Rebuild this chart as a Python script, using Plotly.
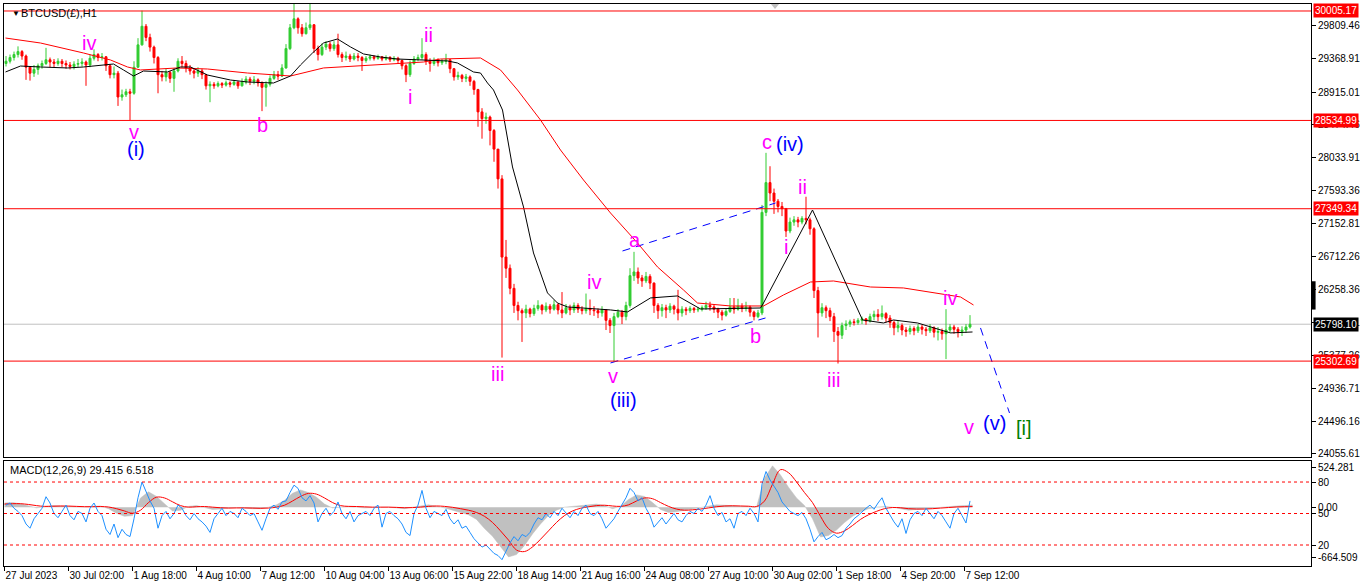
import plotly.graph_objects as go

# BTCUSD H1 chart, prices grouped in 4 hour candles (x = H1 bar index)
first_open = 29300
closes = [
    29330, 29380, 29420, 29460, 29400, 29250, 29170, 29220, 29270, 29300,
    29350, 29320, 29300, 29330, 29300, 29280, 29260, 29290, 29300, 29320,
    29280, 29370, 29420, 29380, 29390, 29270, 29150, 29170, 28850, 28880,
    28920, 28900, 29250, 29550, 29800, 29650, 29520, 29380, 29150, 29120,
    29180, 29100, 29200, 29330, 29300, 29240, 29200, 29170, 29200, 29150,
    29000, 29020, 29000, 29030, 29010, 29040, 29020, 29050, 29000, 29050,
    29090, 29060, 29080, 29040, 28980, 29020, 29100, 29150, 29130, 29240,
    29500, 29780, 29900, 29780, 29700, 29780, 29820, 29500, 29420, 29520,
    29560, 29500, 29550, 29420, 29380, 29400, 29360, 29400, 29380, 29340,
    29370, 29390, 29370, 29390, 29360, 29380, 29350, 29370, 29340, 29270,
    29150, 29300, 29360, 29380, 29420, 29330, 29300, 29340, 29310, 29330,
    29350, 29230, 29120, 29140, 29100, 29120, 29060, 28950, 28650, 28560,
    28580, 28400, 28150, 27750, 26700, 26550, 26280, 26050, 25980, 25950,
    26000, 25940, 26010, 26050, 25990, 26040, 26000, 26060, 25990, 25950,
    26020, 25990, 26050, 26000, 25980, 26010, 25990, 25980, 25950, 25990,
    25850, 25780, 25900, 25960, 25900, 26050, 26450, 26500, 26420, 26380,
    26440, 26350, 26050, 25980, 26020, 25990, 26040, 26000, 25950, 26000,
    25980, 26010, 25990, 26000, 26020, 26050, 26030, 26000, 25960, 25920,
    25970, 26030, 26000, 26040, 26010, 26030, 25960, 25900, 25950, 27300,
    27700, 27560, 27450, 27380, 27350, 27050, 27170, 27200, 27170, 27220,
    27200, 27080, 26250, 25950, 26020, 25980, 25900, 25700, 25650, 25780,
    25800, 25830, 25820, 25850, 25870, 25840, 25900, 25930, 25900, 25940,
    25880, 25820, 25750, 25780, 25720, 25700, 25740, 25710, 25760, 25730,
    25710, 25750, 25690, 25700, 25670, 25720, 25760, 25730, 25700, 25720,
    25760, 25798,
]
highs = [
    29400, 29420, 29460, 29530, 29480, 29420, 29260, 29280, 29300, 29340,
    29510, 29380, 29360, 29370, 29360, 29340, 29320, 29330, 29360, 29370,
    29340, 29420, 29490, 29440, 29440, 29400, 29290, 29260, 29200, 28950,
    28960, 28960, 29330, 29640, 30010, 29830, 29700, 29540, 29400, 29200,
    29230, 29200, 29240, 29370, 29400, 29340, 29280, 29230, 29250, 29230,
    29160, 29060, 29050, 29060, 29050, 29070, 29060, 29080, 29060, 29100,
    29130, 29120, 29130, 29100, 29060, 29060, 29140, 29200, 29200, 29290,
    29560, 29830, 30110, 29920, 29830, 29850, 30110, 29830, 29540, 29570,
    29600, 29590, 29600, 29700, 29450, 29460, 29430, 29440, 29440, 29400,
    29400, 29420, 29410, 29420, 29400, 29410, 29400, 29400, 29390, 29350,
    29290, 29340, 29400, 29420, 29640, 29450, 29370, 29380, 29370, 29360,
    29430, 29360, 29240, 29190, 29160, 29160, 29140, 29080, 28960, 28700,
    28640, 28600, 28420, 28150, 27800, 26930, 26600, 26340, 26100, 26010,
    26060, 26020, 26060, 26120, 26070, 26090, 26070, 26120, 26080, 26230,
    26070, 26060, 26090, 26080, 26040, 26210, 26130, 26040, 26010, 26040,
    26000, 25880, 25950, 26000, 25990, 26100, 26550, 26770, 26560, 26460,
    26500, 26470, 26360, 26080, 26070, 26060, 26080, 26060, 26260, 26040,
    26030, 26040, 26030, 26030, 26050, 26100, 26100, 26060, 26020, 25990,
    26010, 26150, 26150, 26140, 26080, 26100, 26050, 25980, 25990, 27400,
    28100, 27920, 27620, 27480, 27440, 27360, 27230, 27250, 27240, 27250,
    27510, 27230, 27100, 26300, 26080, 26050, 26020, 25950, 25760, 25820,
    25850, 25860, 25870, 25880, 25900, 25880, 25940, 25980, 26000, 26050,
    25960, 25920, 25850, 25840, 25810, 25760, 25780, 25770, 25800, 25790,
    25760, 25800, 25770, 25760, 25740, 26000, 25800, 25790, 25760, 25770,
    25800, 25920,
]
lows = [
    29260, 29300, 29340, 29380, 29350, 29080, 29070, 29120, 29150, 29230,
    29280, 29250, 29250, 29270, 29250, 29230, 29220, 29220, 29250, 29260,
    29000, 29250, 29340, 29330, 29340, 29200, 29100, 29100, 28730, 28800,
    28850, 28540, 28880, 29240, 29540, 29600, 29460, 29300, 28900, 29060,
    29060, 29040, 28920, 29180, 29250, 29180, 29150, 29100, 29120, 29090,
    28950, 28780, 28960, 28980, 28970, 28990, 28980, 29000, 28960, 28990,
    29020, 29010, 29020, 28990, 28660, 28720, 28990, 29080, 29080, 29120,
    29230, 29480, 29760, 29700, 29660, 29690, 29750, 29440, 29340, 29400,
    29480, 29460, 29470, 29380, 29320, 29340, 29320, 29340, 29330, 29200,
    29310, 29340, 29340, 29350, 29330, 29340, 29320, 29330, 29300, 29220,
    29050, 29120, 29280, 29330, 29350, 29280, 29190, 29270, 29260, 29280,
    29290, 29170, 29070, 29080, 29050, 29050, 29000, 28880, 28450, 28290,
    28490, 28200, 27980, 27620, 25350, 26420, 26200, 25950, 25850, 25560,
    25880, 25890, 25910, 25980, 25930, 25960, 25940, 25980, 25930, 25880,
    25930, 25920, 25950, 25950, 25930, 25940, 25920, 25910, 25880, 25900,
    25720, 25680, 25290, 25880, 25800, 25850, 26020, 26380, 26340, 26300,
    26350, 26270, 25950, 25870, 25900, 25880, 25950, 25930, 25850, 25900,
    25920, 25950, 25950, 25960, 25970, 25990, 25980, 25950, 25880, 25850,
    25900, 25950, 25940, 25980, 25960, 25970, 25900, 25850, 25880, 25920,
    27250, 27450, 27280, 27300, 27250, 26970, 27020, 27120, 27100, 27140,
    27140, 27000, 26150, 25620, 25900, 25880, 25840, 25560, 25270, 25600,
    25720, 25760, 25780, 25790, 25800, 25790, 25820, 25850, 25840, 25860,
    25820, 25750, 25650, 25690, 25650, 25630, 25660, 25650, 25680, 25660,
    25640, 25680, 25620, 25580, 25590, 25330, 25680, 25670, 25620, 25640,
    25680, 25740,
]
opens = [first_open] + closes[:-1]
bar_x = [4 * i + 1.5 for i in range(len(closes))]

# moving averages (bar index, price)
black_ma_x = [1, 16, 36, 63, 79, 96, 109, 119, 129, 139, 163, 176, 186, 203, 226, 243,
              269, 286, 296, 308, 319, 333, 346, 359, 376, 393, 413, 443, 453, 469, 476,
              483, 489, 498, 508, 519, 529, 543, 553, 563, 606, 623, 646, 673, 696, 756,
              759, 808, 858, 879, 889, 913, 946, 968]
black_ma_y = [29186, 29266, 29253, 29240, 29253, 29280, 29293, 29213, 29132, 29199, 29186,
              29253, 29253, 29145, 29078, 29051, 29038, 29132, 29280, 29441, 29575, 29629,
              29522, 29428, 29387, 29360, 29347, 29334, 29307, 29186, 29172, 29038, 28944,
              28675, 27910, 27373, 26755, 26218, 26083, 26030, 25990, 25963, 26151, 26178,
              26003, 26016, 26083, 27332, 25855, 25815, 25855, 25815, 25681, 25694]
red_ma_x = [1, 36, 79, 106, 123, 136, 173, 203, 243, 286, 319, 336, 369, 419, 436, 469,
            476, 496, 513, 536, 556, 579, 606, 633, 653, 679, 693, 726, 759, 779, 806,
            829, 866, 899, 933, 956, 969]
red_ma_y = [29642, 29575, 29441, 29347, 29253, 29213, 29240, 29226, 29172, 29132, 29240,
            29253, 29280, 29320, 29360, 29374, 29374, 29213, 28944, 28541, 28138, 27735,
            27292, 26889, 26567, 26258, 26083, 26043, 26043, 26191, 26365, 26379, 26298,
            26285, 26218, 26164, 26056]

# MACD panel: histogram and signal every 8 bars, blue oscillator every 4 bars
macd_hist = [55, 60, 45, 15, -10, 5, 20, 15, 10, 5, 0, 10, 15, -20, -80, -120, -110, 120,
             200, 140, 40, -50, -40, 10, 20, 0, -30, -25, -10, -5, -15, -20, -20, 0, 30,
             90, 180, 225, 190, 130, 40, -10, 0, 10, 0, -10, -5, 0, 0, -10, -20, 0, 20, 30,
             10, -10, -40, -70, -100, -160, -280, -380, -520, -650, -620, -500, -350, -220,
             -110, -40, 0, 10, 20, 30, 40, 20, -20, 10, 100, 160, 140, 60, -30, -70, -60,
             -40, -20, 0, 20, 30, 25, 15, 10, 10, 0, 380, 540, 420, 260, 120, 20, -150,
             -390, -370, -300, -200, -120, -60, -20, 0, 10, 0, -20, -40, -30, -20, -10, 0,
             10, 15, 20, 29]
macd_signal = [40, 45, 45, 35, 20, 10, 12, 15, 14, 10, 6, 6, 8, 2, -20, -50, -80, -40, 60,
               130, 120, 70, 20, 0, 5, 8, 0, -8, -12, -10, -10, -12, -15, -12, 0, 25, 80,
               140, 180, 170, 120, 60, 20, 10, 8, 4, 0, 0, 0, -3, -8, -6, 0, 10, 15, 10, -2,
               -20, -40, -70, -120, -200, -310, -430, -560, -580, -520, -420, -310, -200,
               -110, -50, -15, 5, 20, 25, 15, 10, 30, 80, 120, 110, 60, 10, -25, -40, -35,
               -25, -10, 5, 15, 18, 15, 12, 8, 80, 300, 490, 450, 330, 190, 60, -120, -280,
               -340, -310, -240, -160, -100, -55, -20, -5, -8, -20, -25, -25, -20, -12, -5,
               2, 5, 7]
blue_osc = [
    58, 60, 55, 52, 48, 40, 36, 45, 50, 55, 66, 60, 50, 46, 52, 58, 48, 44, 52, 50,
    42, 55, 60, 52, 48, 35, 30, 40, 27, 35, 30, 28, 45, 65, 80, 70, 62, 55, 36, 48,
    52, 45, 50, 58, 55, 48, 44, 50, 45, 42, 38, 32, 45, 50, 55, 48, 52, 50, 46, 55,
    52, 48, 50, 42, 34, 45, 55, 58, 54, 61, 62, 70, 77, 74, 65, 62, 67, 60, 42, 50,
    55, 48, 52, 61, 50, 45, 52, 42, 48, 50, 52, 48, 55, 58, 37, 50, 52, 48, 45, 40,
    32, 29, 50, 58, 72, 55, 46, 52, 50, 48, 54, 45, 40, 44, 36, 38, 32, 26, 22, 18,
    20, 16, 12, 10, 6, 14, 22, 28, 24, 30, 28, 32, 40, 46, 44, 50, 46, 52, 48, 55,
    50, 46, 52, 48, 55, 58, 50, 48, 52, 45, 36, 40, 45, 52, 58, 65, 74, 70, 62, 65,
    55, 48, 37, 42, 46, 40, 45, 50, 44, 42, 48, 52, 50, 55, 52, 58, 67, 55, 48, 51,
    42, 45, 36, 50, 52, 48, 55, 50, 42, 78, 90, 82, 76, 70, 61, 56, 52, 50, 48, 51,
    45, 35, 23, 28, 32, 25, 27, 30, 27, 29, 36, 40, 45, 48, 52, 55, 58, 54, 60, 65,
    55, 48, 42, 37, 45, 31, 44, 50, 52, 48, 55, 50, 45, 52, 48, 42, 36, 50, 55, 48,
    41, 62,
]
macd_x = [8 * i for i in range(len(macd_hist))]

# horizontal levels and axis labels
red_levels = [30005.17, 28534.99, 27349.34, 25302.69]
last_price = 25798.10
price_ticks = [29809.46, 29368.91, 28915.01, 28474.46, 28033.91, 27593.36, 27152.81,
               26712.26, 26258.36, 25817.81, 25377.26, 24936.71, 24496.16, 24055.61]
date_labels = ["27 Jul 2023", "30 Jul 02:00", "1 Aug 18:00", "4 Aug 10:00", "7 Aug 12:00",
               "10 Aug 04:00", "13 Aug 06:00", "15 Aug 22:00", "18 Aug 14:00", "21 Aug 16:00",
               "24 Aug 08:00", "27 Aug 10:00", "30 Aug 02:00", "1 Sep 18:00", "4 Sep 20:00",
               "7 Sep 12:00"]
date_ticks = [64 * i for i in range(len(date_labels))]

# wave channel lines (bar index, price)
channel_upper = ([618, 771], [26782, 27426])
channel_lower = ([606, 761], [25278, 25882])
projection = ([976, 1005], [25748, 24606])

# Elliott wave labels (bar index, price)
minor_text = ["iv", "v", "b", "i", "ii", "iii", "iv", "v", "a", "b", "c", "ii", "i", "iii", "iv", "v"]
minor_x = [84, 129, 258, 405, 424, 493, 589, 608, 630, 751, 762, 798, 781, 829, 945, 964]
minor_y = [29575, 28380, 28474, 28850, 29683, 25130, 26365, 25102, 26930, 25640, 28246,
           27641, 26836, 25049, 26151, 24418]
inter_text = ["(i)", "(iii)", "(iv)", "(v)"]
inter_x = [131, 619, 785, 990]
inter_y = [28152, 24781, 28220, 24472]
primary_text = ["[i]"]
primary_x = [1019]
primary_y = [24405]

FONT = "Liberation Sans"

fig = go.Figure()

fig.add_trace(go.Candlestick(
    x=bar_x, open=opens, high=highs, low=lows, close=closes,
    increasing=dict(line=dict(color="#32CD32", width=1), fillcolor="#32CD32"),
    decreasing=dict(line=dict(color="#FF0000", width=1), fillcolor="#FF0000"),
    whiskerwidth=0, xaxis="x", yaxis="y", hoverinfo="skip"))

fig.add_trace(go.Scatter(x=red_ma_x, y=red_ma_y, mode="lines", line=dict(color="#FF0000", width=1),
                         xaxis="x", yaxis="y", hoverinfo="skip"))
fig.add_trace(go.Scatter(x=black_ma_x, y=black_ma_y, mode="lines", line=dict(color="#000000", width=1),
                         xaxis="x", yaxis="y", hoverinfo="skip"))

for xs, ys in [channel_upper, channel_lower, projection]:
    fig.add_trace(go.Scatter(x=xs, y=ys, mode="lines", line=dict(color="#0000FF", width=1, dash="8px,6px"),
                             xaxis="x", yaxis="y", hoverinfo="skip"))

# MACD panel
fig.add_trace(go.Scatter(x=macd_x, y=macd_hist, mode="lines", fill="tozeroy", fillcolor="#C0C0C0",
                         line=dict(color="#C0C0C0", width=0.5), xaxis="x2", yaxis="y3", hoverinfo="skip"))
fig.add_trace(go.Scatter(x=macd_x, y=macd_signal, mode="lines", line=dict(color="#FF0000", width=1, shape="spline"),
                         xaxis="x2", yaxis="y3", hoverinfo="skip"))
fig.add_trace(go.Scatter(x=bar_x, y=blue_osc, mode="lines", line=dict(color="#1E90FF", width=1),
                         xaxis="x2", yaxis="y4", hoverinfo="skip"))

shapes = []
for lvl in red_levels:
    shapes.append(dict(type="line", xref="paper", x0=0, x1=1, yref="y", y0=lvl, y1=lvl,
                       line=dict(color="#FF0000", width=1)))
shapes.append(dict(type="line", xref="paper", x0=0, x1=1, yref="y", y0=last_price, y1=last_price,
                   line=dict(color="#C0C0C0", width=1), layer="below"))
for lvl in [80, 50, 20]:
    shapes.append(dict(type="line", xref="paper", x0=0, x1=1, yref="y4", y0=lvl, y1=lvl,
                       line=dict(color="#FF0000", width=1, dash="3px,3px")))
# chart shift marker and scroll box
shapes.append(dict(type="path", xref="paper", yref="paper", path="M 0.5868 1 L 0.5930 1 L 0.5899 0.9911 Z",
                   fillcolor="#C0C0C0", line=dict(width=0)))
shapes.append(dict(type="rect", xref="paper", x0=1.0006, x1=1.0035, yref="y", y0=25995, y1=26375,
                   fillcolor="#000000", line=dict(width=0)))

annotations = []
for t, x, y in zip(minor_text, minor_x, minor_y):
    annotations.append(dict(x=x, y=y, xref="x", yref="y", text=t, showarrow=False,
                            font=dict(family=FONT, size=20, color="#FF00FF")))
for t, x, y in zip(inter_text, inter_x, inter_y):
    annotations.append(dict(x=x, y=y, xref="x", yref="y", text=t, showarrow=False,
                            font=dict(family=FONT, size=20, color="#0000FF")))
for t, x, y in zip(primary_text, primary_x, primary_y):
    annotations.append(dict(x=x, y=y, xref="x", yref="y", text=t, showarrow=False,
                            font=dict(family=FONT, size=20, color="#008000")))

# price tags on the right axis
for lvl in red_levels:
    annotations.append(dict(xref="paper", x=1, xanchor="left", xshift=2, yref="y", y=lvl,
                            text=f"{lvl:.2f}", showarrow=False, bgcolor="#FF0000", borderpad=1,
                            font=dict(family=FONT, size=10, color="white")))
annotations.append(dict(xref="paper", x=1, xanchor="left", xshift=2, yref="y", y=last_price,
                        text=f"{last_price:.2f}", showarrow=False, bgcolor="#000000", borderpad=1,
                        font=dict(family=FONT, size=10, color="white")))

annotations.append(dict(xref="paper", yref="paper", x=0.0045, y=1, xanchor="left", yanchor="top", yshift=-3,
                        text="▼", showarrow=False, font=dict(family=FONT, size=8, color="black")))
annotations.append(dict(xref="paper", yref="paper", x=0.0115, y=1, xanchor="left", yanchor="top", yshift=-1,
                        text="BTCUSD(£),H1", showarrow=False, font=dict(family=FONT, size=11, color="black")))
annotations.append(dict(xref="paper", yref="paper", x=0.003, y=0.1868, xanchor="left", yanchor="top", yshift=-1,
                        text="MACD(12,26,9) 29.415 6.518", showarrow=False,
                        font=dict(family=FONT, size=11, color="black")))

axis_font = dict(family=FONT, size=10, color="black")
frame = dict(showline=True, mirror=True, linecolor="black", linewidth=1, showgrid=False,
             zeroline=False, automargin=False)

fig.update_layout(
    width=1366, height=588,
    margin=dict(l=4, r=55, t=4, b=22),
    paper_bgcolor="white", plot_bgcolor="white",
    showlegend=False,
    shapes=shapes, annotations=annotations,
    xaxis=dict(domain=[0, 1], anchor="y", range=[-0.5, 1306.5], showticklabels=False, ticks="",
               rangeslider=dict(visible=False), **frame),
    yaxis=dict(domain=[0.194, 1], anchor="x", side="right", range=[24015, 30099],
               tickvals=price_ticks, ticktext=[f"{v:.2f}" for v in price_ticks],
               ticks="outside", ticklen=4, tickcolor="black", tickfont=axis_font, **frame),
    xaxis2=dict(domain=[0, 1], anchor="y3", matches="x", range=[-0.5, 1306.5],
                tickvals=date_ticks, ticktext=date_labels, ticklabelposition="outside right",
                tickangle=0, ticks="outside", ticklen=4, tickcolor="black", tickfont=axis_font, **frame),
    yaxis3=dict(domain=[0, 0.1868], anchor="x2", side="right", range=[-769, 602.7],
                tickvals=[524.281, 0, -664.509], ticktext=["524.281", "0.00", "-664.509"],
                ticks="outside", ticklen=4, tickcolor="black", tickfont=axis_font, **frame),
    yaxis4=dict(overlaying="y3", anchor="x2", side="right", range=[0, 100],
                tickvals=[80, 50, 20], ticktext=["80", "50", "20"],
                ticks="outside", ticklen=4, tickcolor="black", tickfont=axis_font,
                showgrid=False, zeroline=False, automargin=False),
)

fig.write_html("out.html", config={"displayModeBar": False},
               post_script="document.body.style.margin='0px';")
